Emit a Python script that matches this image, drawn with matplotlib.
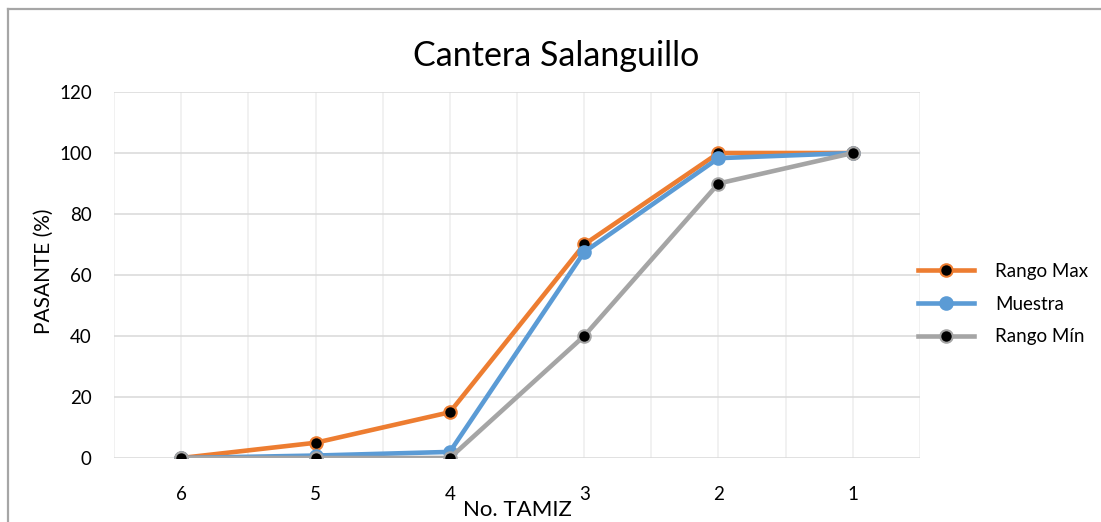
import matplotlib
matplotlib.use("Agg")
import matplotlib.pyplot as plt
from matplotlib.lines import Line2D

plt.rcParams['font.family'] = ['Lato', 'DejaVu Sans']

# datos
tamices = ["6", "5", "4", "3", "2", "1"]
rango_max = [0, 5, 15, 70, 100, 100]
muestra = [0, 0.8, 2, 67.5, 98.3, 100]
rango_min = [0, 0, 0, 40, 90, 100]

naranja = "#ED7D31"
azul = "#5B9BD5"
gris = "#A5A5A5"

fig = plt.figure(figsize=(11.01, 5.22), dpi=100)
ax = fig.add_axes([114/1101, 1 - 458/522, 806/1101, 366/522])

xs = list(range(len(tamices)))

ax.plot(xs, rango_max, color=naranja, lw=3.3, marker='o', ms=9,
        mfc='black', mec=naranja, mew=1.5, label="Rango Max", zorder=3)
ax.plot(xs, muestra, color=azul, lw=3.3, marker='o', ms=9,
        mfc=azul, mec=azul, mew=1.5, label="Muestra", zorder=4)
ax.plot(xs, rango_min, color=gris, lw=3.3, marker='o', ms=9,
        mfc='black', mec=gris, mew=1.5, label="Rango Mín", zorder=5)

ax.set_xlim(-0.5, len(tamices) - 0.5)
ax.set_ylim(0, 120)
ax.set_yticks(range(0, 121, 20))
ax.set_xticks(xs)
ax.set_xticklabels(tamices)
ax.set_xticks([i - 0.5 for i in range(len(tamices) + 1)], minor=True)

ax.grid(axis='y', color="#D9D9D9", lw=1.1)
ax.grid(axis='x', which='both', color="#EDEDED", lw=1.1)
ax.set_axisbelow(True)
for s in ax.spines.values():
    s.set_visible(False)
ax.tick_params(which='both', length=0)
ax.tick_params(axis='x', pad=20, labelsize=13.5)
ax.tick_params(axis='y', pad=16, labelsize=13.5)

# titulo centrado en todo el grafico
ax.set_title("Cantera Salanguillo", fontsize=24.5, pad=19, x=0.548)
ax.set_xlabel("No. TAMIZ", fontsize=16)
ax.xaxis.set_label_coords(0.5, -0.115)
ax.set_ylabel("PASANTE (%)", fontsize=15)
ax.yaxis.set_label_coords(-0.087, 0.511)
ax.yaxis.label.set_va('center')

ax.legend(loc='center left', bbox_to_anchor=(918/1101, 1 - 304/522),
          bbox_transform=fig.transFigure, frameon=False, fontsize=13.5,
          handlelength=3.0, handletextpad=1.1, labelspacing=0.85,
          borderaxespad=0, borderpad=0)

# borde del grafico
fig.add_artist(Line2D([8/1101, 1], [1 - 9/522, 1 - 9/522], color="#A6A6A6", lw=1.6))
fig.add_artist(Line2D([8/1101, 8/1101], [0, 1 - 9/522], color="#A6A6A6", lw=1.6))

fig.savefig("out.png", dpi=100)
